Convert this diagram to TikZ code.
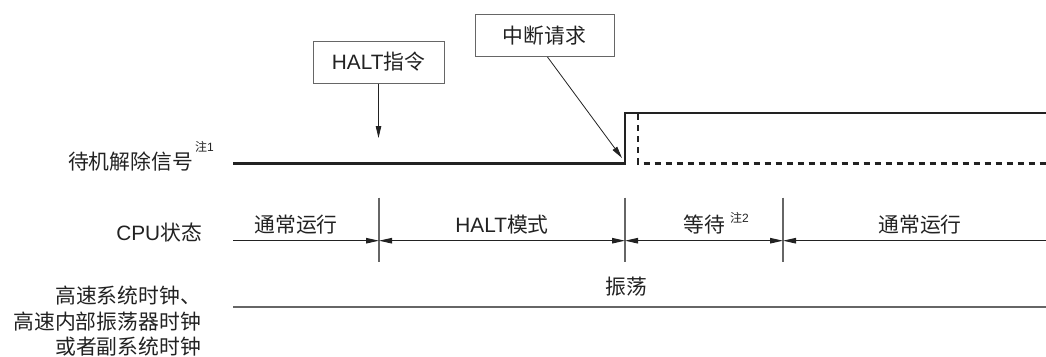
\documentclass[tikz,border=0pt]{standalone}
\usepackage{fontspec}
\setmainfont{Noto Sans CJK SC}
\newfontfamily\lat{Liberation Sans}
\usetikzlibrary{arrows.meta}
\definecolor{ink}{HTML}{222222}
\definecolor{tickc}{HTML}{666666}
\tikzset{
  lab/.style={inner sep=0pt, text=ink, font=\fontsize{20.8}{24}\selectfont},
  note/.style={inner sep=0pt, text=ink, font=\fontsize{12}{14}\selectfont},
  callout/.style={draw=tickc, line width=1pt, inner sep=0pt, minimum height=42pt, text=ink, font=\fontsize{20.8}{24}\selectfont},
  sig/.style={line width=2.6pt, ink},
  sigdash/.style={line width=2.6pt, ink, dash pattern=on 6pt off 5pt},
  tip/.style={-{Triangle[length=12pt,width=5.5pt]}, line width=0.8pt, ink},
  dim/.style={line width=1pt, ink},
  tick/.style={line width=1.3pt, tickc},
  tri/.tip={Triangle[length=13pt,width=5.5pt]}
}
\begin{document}
\begin{tikzpicture}[x=1pt,y=-1pt]
\useasboundingbox (0,0) rectangle (1046,356);
% left labels
\node[lab, anchor=east] (sl) at (193,162) {待机解除信号};
\node[note, anchor=west] (n1) at (195,147) {注{\lat 1}};
\node[lab, anchor=east] (cl) at (202,233) {{\lat CPU}状态};
\node[lab, anchor=east] (k1) at (201,296) {高速系统时钟、};
\node[lab, anchor=east] (k2) at (201,322) {高速内部振荡器时钟};
\node[lab, anchor=east] (k3) at (201,347) {或者副系统时钟};
% callout boxes
\node[callout, minimum width=131pt] (h) at (378.5,62) {{\lat HALT}指令};
\node[callout, minimum width=139pt] (ir) at (544.5,35.5) {中断请求};
\coordinate (htip) at (378.5,138);
\coordinate (itip) at (622,158);
\draw[tip] (h.south) -- (htip);
\draw[tip] ([xshift=3pt]ir.south) -- (itip);
% release signal
\coordinate (s0) at (233,163.5);
\coordinate (s1) at (625,163.5);
\coordinate (s2) at (625,113);
\coordinate (s3) at (1050,113);
\draw[sig, line join=miter] (s0) -- (s1) -- (s2) -- (s3);
\coordinate (d0) at (638,114);
\coordinate (d1) at (638,163.5);
\coordinate (d2) at (1050,163.5);
\draw[sigdash] (d0) -- (d1) -- (d2);
% CPU state
\coordinate (c0) at (233,240.7);
\coordinate (t1) at (379,240.7);
\coordinate (t2) at (625,240.7);
\coordinate (t3) at (783,240.7);
\coordinate (c4) at (1046,240.7);
\foreach \t in {t1,t2,t3} {
  \draw[tick] ([yshift=43pt]\t) -- ([yshift=-21.5pt]\t);
}
\draw[dim, -tri] (c0) -- (t1);
\draw[dim, tri-tri] (t1) -- (t2);
\draw[dim, tri-tri] (t2) -- (t3);
\draw[dim, tri-] (t3) -- (c4);
\node[lab] (m1) at (296,225) {通常运行};
\node[lab] (m2) at (502,225) {{\lat HALT}模式};
\node[lab] (m3) at (704.5,225) {等待};
\node[note, anchor=west] (n2) at (730,218) {注{\lat 2}};
\node[lab] (m4) at (920,225) {通常运行};
% clock
\coordinate (k0) at (233,307);
\coordinate (kE) at (1046,307);
\draw[line width=1.3pt, tickc] (k0) -- (kE);
\node[lab] (osc) at (626,287) {振荡};
\end{tikzpicture}
\end{document}
